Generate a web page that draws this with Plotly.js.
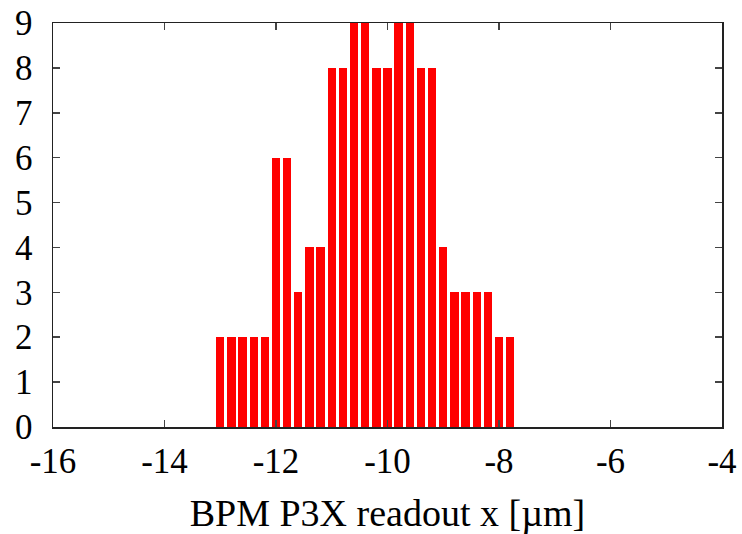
<!DOCTYPE html>
<html>
<head>
<meta charset="utf-8">
<script src="https://cdn.plot.ly/plotly-3.0.1.min.js"></script>
<style>html,body{margin:0;padding:0;background:#fff;}#chart{width:742px;height:534px;}</style>
</head>
<body>
<div id="chart"></div>
<script>
// Histogram bin centres (µm) and counts
var binCenters = [-13.0, -12.8, -12.6, -12.4, -12.2, -12.0, -11.8, -11.6, -11.4, -11.2,
                  -11.0, -10.8, -10.6, -10.4, -10.2, -10.0, -9.8, -9.6, -9.4, -9.2,
                  -9.0, -8.8, -8.6, -8.4, -8.2, -8.0, -7.8];
var counts = [2, 2, 2, 2, 2, 6, 6, 3, 4, 4,
              8, 8, 9, 9, 8, 8, 9, 9, 8, 8,
              4, 3, 3, 3, 3, 2, 2];
var xTickVals = [-16, -14, -12, -10, -8, -6, -4];
var yTickVals = [0, 1, 2, 3, 4, 5, 6, 7, 8, 9];
var xLabel = 'BPM P3X readout x [µm]';

var fontFam = '"Liberation Serif", "Times New Roman", serif';

var trace = {
  type: 'bar',
  x: binCenters,
  y: counts,
  width: 0.15,
  marker: {color: '#ff0000', line: {width: 0}},
  hoverinfo: 'x+y'
};

var axisCommon = {
  showgrid: false,
  zeroline: false,
  showline: true,
  linecolor: '#222',
  linewidth: 1.5,
  mirror: 'allticks',
  ticks: 'inside',
  ticklen: 7,
  tickwidth: 1.5,
  tickcolor: '#444',
  tickfont: {family: fontFam, size: 35, color: '#000'},
  fixedrange: true
};

var layout = {
  width: 742,
  height: 534,
  margin: {l: 53, r: 20, t: 23, b: 107},
  paper_bgcolor: '#fff',
  plot_bgcolor: '#fff',
  showlegend: false,
  bargap: 0,
  xaxis: Object.assign({}, axisCommon, {
    range: [-16, -4],
    tickmode: 'array',
    tickvals: xTickVals,
    ticktext: xTickVals.map(String),
    ticklabelstandoff: 2,
    title: {text: xLabel, font: {family: fontFam, size: 38, color: '#000'}, standoff: 26}
  }),
  yaxis: Object.assign({}, axisCommon, {
    range: [0, 9],
    tickmode: 'array',
    tickvals: yTickVals,
    ticktext: yTickVals.map(String),
    ticklabelstandoff: 12
  })
};

Plotly.newPlot('chart', [trace], layout, {displayModeBar: false, staticPlot: true});
</script>
</body>
</html>
